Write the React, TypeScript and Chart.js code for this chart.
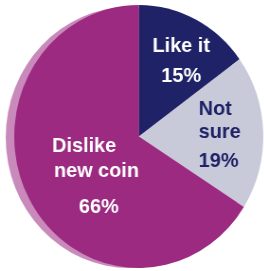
import React, { useEffect, useRef } from "react";
import { Chart, registerables } from "chart.js";

Chart.register(...registerables);

const categories = ["Like it", "Not sure", "Dislike new coin"];
const shares = [15, 19, 66];
const labelLines = [["Like it", "15%"], ["Not", "sure", "19%"], ["Dislike", "new coin", "66%"]];
const sliceColors = ["#1f2266", "#c8cad9", "#9b2a80"];
const textColors = ["#ffffff", "#1f2266", "#ffffff"];

// per-line offsets (style) relative to each slice's anchor point
const lineStyle = [
  [{ dx: 9, dy: -14, align: "center" }, { dx: 9, dy: 16, align: "center" }],
  [{ dx: -15.5, dy: -19, align: "left" }, { dx: -15.5, dy: 4, align: "left" }, { dx: -15.5, dy: 33, align: "left" }],
  [{ dx: 11.5, dy: -22.5, align: "center" }, { dx: 24.5, dy: 2.5, align: "center" }, { dx: 27, dy: 38.5, align: "center" }],
];

const rimPlugin = {
  id: "rim",
  beforeDatasetsDraw(chart: any) {
    const arc = chart.getDatasetMeta(0).data[0];
    if (!arc) return;
    const { x, y, outerRadius } = arc.getProps(["x", "y", "outerRadius"], true);
    const ctx = chart.ctx;
    ctx.save();
    ctx.beginPath();
    ctx.arc(x - 10, y + 1, outerRadius - 1, 0, Math.PI * 2);
    ctx.fillStyle = "#c98abb";
    ctx.fill();
    ctx.restore();
  },
};

const labelPlugin = {
  id: "sliceLabels",
  afterDatasetsDraw(chart: any) {
    const ctx = chart.ctx;
    const arcs = chart.getDatasetMeta(0).data;
    ctx.save();
    ctx.font = "bold 21px 'Liberation Sans', Arial, sans-serif";
    ctx.textBaseline = "alphabetic";
    arcs.forEach((arc: any, i: number) => {
      const { x, y, startAngle, endAngle, outerRadius } = arc.getProps(
        ["x", "y", "startAngle", "endAngle", "outerRadius"],
        true
      );
      const mid = (startAngle + endAngle) / 2;
      const ax = x + Math.cos(mid) * outerRadius * 0.6;
      const ay = y + Math.sin(mid) * outerRadius * 0.6;
      ctx.fillStyle = textColors[i];
      labelLines[i].forEach((line, j) => {
        const s = lineStyle[i][j];
        ctx.textAlign = s.align;
        ctx.fillText(line, ax + s.dx, ay + s.dy);
      });
    });
    ctx.restore();
  },
};

export default function App() {
  const ref = useRef<HTMLCanvasElement>(null);
  useEffect(() => {
    document.body.style.margin = "0";
    document.body.style.background = "#ffffff";
    const chart = new Chart(ref.current!, {
      type: "pie",
      data: {
        labels: categories,
        datasets: [
          {
            data: shares,
            backgroundColor: sliceColors,
            borderWidth: 0,
          },
        ],
      },
      options: {
        responsive: false,
        animation: false,
        layout: { padding: { left: 15, right: 2, top: 5, bottom: 3 } },
        plugins: {
          legend: { display: false },
          tooltip: { enabled: false },
        },
      },
      plugins: [rimPlugin, labelPlugin],
    });
    return () => chart.destroy();
  }, []);
  return (
    <div style={{ width: 264, height: 271, overflow: "hidden", background: "#fff" }}>
      <canvas
        ref={ref}
        width={280}
        height={271}
        style={{ width: 280, height: 271, transform: "scaleX(0.947)", transformOrigin: "0 0", display: "block" }}
      />
    </div>
  );
}
